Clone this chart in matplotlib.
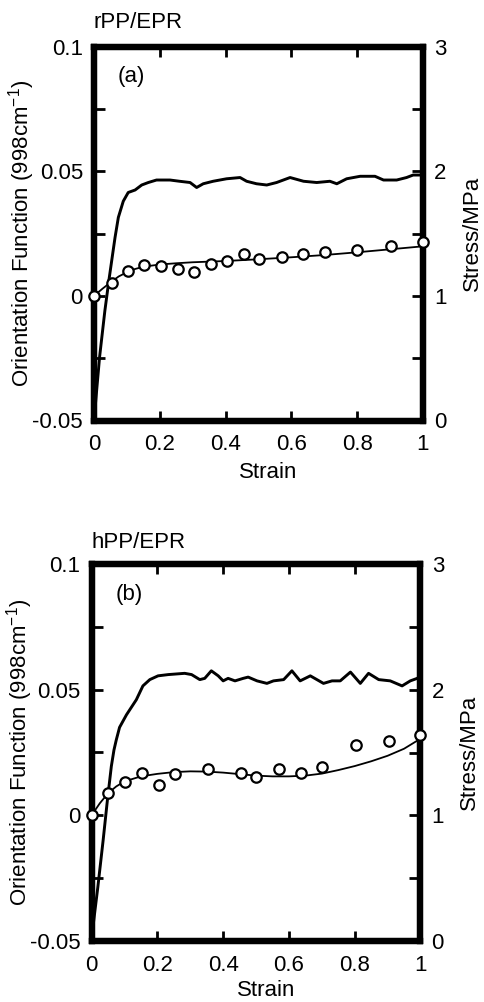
import matplotlib
matplotlib.use("Agg")
import matplotlib.pyplot as plt
import numpy as np

plt.rcParams['font.family'] = ['Liberation Sans', 'DejaVu Sans']
plt.rcParams['mathtext.fontset'] = 'custom'
plt.rcParams['mathtext.rm'] = 'Liberation Sans'
plt.rcParams['mathtext.it'] = 'Liberation Sans'
plt.rcParams['mathtext.default'] = 'regular'

# ---------------- data: panel (a) rPP/EPR ----------------
a_stress_strain = [0, 0.017, 0.033, 0.045, 0.058, 0.064, 0.074, 0.089, 0.104, 0.125,
                   0.145, 0.165, 0.19, 0.231, 0.26, 0.292, 0.312, 0.332, 0.362, 0.403,
                   0.444, 0.464, 0.494, 0.525, 0.555, 0.596, 0.637, 0.677, 0.717, 0.738,
                   0.768, 0.809, 0.854, 0.88, 0.92, 0.95, 0.97, 1.0]
a_stress = [0, 0.51, 0.88, 1.12, 1.36, 1.47, 1.63, 1.76, 1.83, 1.85,
            1.89, 1.91, 1.93, 1.93, 1.92, 1.91, 1.87, 1.90, 1.92, 1.94,
            1.95, 1.92, 1.90, 1.89, 1.91, 1.95, 1.92, 1.91, 1.92, 1.90,
            1.94, 1.96, 1.96, 1.93, 1.93, 1.95, 1.97, 1.97]
a_pts_strain = [0, 0.054, 0.104, 0.153, 0.203, 0.254, 0.304, 0.355, 0.405, 0.455,
                0.502, 0.570, 0.636, 0.702, 0.80, 0.903, 1.0]
a_pts_f = [0, 0.0053, 0.0099, 0.0123, 0.0119, 0.0107, 0.0096, 0.0130, 0.0140, 0.0167,
           0.0149, 0.0158, 0.0167, 0.0178, 0.0184, 0.0199, 0.0215]
a_fit_strain = [0, 0.025, 0.05, 0.075, 0.1, 0.125, 0.15, 0.2, 0.25, 0.3, 0.4, 0.5,
                0.6, 0.7, 0.8, 0.9, 1.0]
a_fit_f = [0, 0.0028, 0.0054, 0.0078, 0.0095, 0.0108, 0.0117, 0.0126, 0.0131, 0.0135,
           0.0140, 0.0147, 0.0155, 0.0164, 0.0175, 0.0187, 0.0199]

# ---------------- data: panel (b) hPP/EPR ----------------
b_stress_strain = [0, 0.004, 0.019, 0.035, 0.048, 0.06, 0.068, 0.075, 0.085, 0.106,
                   0.121, 0.136, 0.156, 0.177, 0.202, 0.233, 0.283, 0.304, 0.329, 0.344,
                   0.364, 0.385, 0.40, 0.415, 0.436, 0.461, 0.476, 0.503, 0.533, 0.553,
                   0.584, 0.609, 0.634, 0.665, 0.705, 0.731, 0.756, 0.787, 0.817, 0.842,
                   0.873, 0.908, 0.944, 0.969, 0.99, 1.0]
b_stress = [0, 0.11, 0.43, 0.80, 1.12, 1.39, 1.52, 1.60, 1.70, 1.80,
            1.86, 1.92, 2.03, 2.08, 2.11, 2.12, 2.13, 2.12, 2.08, 2.09,
            2.15, 2.11, 2.07, 2.09, 2.07, 2.09, 2.10, 2.07, 2.05, 2.07,
            2.08, 2.15, 2.07, 2.11, 2.05, 2.07, 2.07, 2.14, 2.05, 2.13,
            2.08, 2.07, 2.03, 2.07, 2.09, 2.11]
b_pts_strain = [0, 0.051, 0.103, 0.154, 0.204, 0.255, 0.355, 0.455, 0.50, 0.57,
                0.637, 0.701, 0.805, 0.903, 1.0]
b_pts_f = [0, 0.0089, 0.0133, 0.0170, 0.0121, 0.0166, 0.0183, 0.0170, 0.0153, 0.0183,
           0.0170, 0.0194, 0.0281, 0.0294, 0.0321]
b_fit_strain = [0, 0.025, 0.05, 0.075, 0.1, 0.15, 0.2, 0.25, 0.3, 0.35, 0.4, 0.45,
                0.5, 0.55, 0.6, 0.65, 0.7, 0.75, 0.8, 0.85, 0.9, 0.95, 1.0]
b_fit_f = [0, 0.0048, 0.0088, 0.0115, 0.0135, 0.0155, 0.0165, 0.0172, 0.0175, 0.0174,
           0.0170, 0.0164, 0.0158, 0.0155, 0.0155, 0.0158, 0.0166, 0.0180, 0.0196,
           0.0215, 0.0237, 0.0265, 0.0305]

x_ticks = [0, 0.2, 0.4, 0.6, 0.8, 1.0]
x_ticklabels = ['0', '0.2', '0.4', '0.6', '0.8', '1']
yl_ticks = [-0.05, 0, 0.05, 0.1]
yl_ticklabels = ['-0.05', '0', '0.05', '0.1']
yl_minor = [-0.025, 0.025, 0.075]
yr_ticks = [0, 1, 2, 3]
yr_ticklabels = ['0', '1', '2', '3']
yr_minor = [0.5, 1.5, 2.5]

FS = 16
fig = plt.figure(figsize=(4.85, 10.02), dpi=100)

panels = [
    dict(rect=[94/485, 1-420.5/1002, (423-94)/485, 373.8/1002], title='rPP/EPR', tag='(a)',
         ss=a_stress_strain, s=a_stress, ps=a_pts_strain, pf=a_pts_f, fs=a_fit_strain, ff=a_fit_f,
         title_y=1-23/1002, title_x=94/485, xl_y=-0.112),
    dict(rect=[91.6/485, 1-941/1002, (420.5-91.6)/485, 377/1002], title='hPP/EPR', tag='(b)',
         ss=b_stress_strain, s=b_stress, ps=b_pts_strain, pf=b_pts_f, fs=b_fit_strain, ff=b_fit_f,
         title_y=1-543/1002, title_x=92/485, xl_y=-0.104),
]

for p in panels:
    ax = fig.add_axes(p['rect'])
    ax2 = ax.twinx()
    ax.set_zorder(ax2.get_zorder() + 1)
    ax.patch.set_visible(False)

    ax2.plot(p['ss'], p['s'], color='black', lw=2.1, solid_joinstyle='round')
    ax.plot(p['fs'], p['ff'], color='black', lw=1.3)
    ax.plot(p['ps'], p['pf'], linestyle='none', marker='o', ms=7.5, mfc='white',
            mec='black', mew=1.6, clip_on=False, zorder=5)

    ax.set_xlim(0, 1)
    ax.set_ylim(-0.05, 0.1)
    ax2.set_ylim(0, 3)

    ax.set_xticks(x_ticks)
    ax.set_xticklabels(x_ticklabels, fontsize=FS)
    ax.set_yticks(yl_ticks)
    ax.set_yticklabels(yl_ticklabels, fontsize=FS)
    ax.set_yticks(yl_minor, minor=True)
    ax2.set_yticks(yr_ticks)
    ax2.set_yticklabels(yr_ticklabels, fontsize=FS)
    ax2.set_yticks(yr_minor, minor=True)

    ax.tick_params(axis='x', which='both', direction='in', top=True, length=7, width=2, pad=10)
    ax.tick_params(axis='y', which='both', direction='in', right=False, length=8, width=2, pad=8)
    ax2.tick_params(axis='y', which='both', direction='in', length=8, width=2, pad=8)

    for a in (ax, ax2):
        for sp in a.spines.values():
            sp.set_linewidth(4.5)

    ax.set_xlabel('Strain', fontsize=FS)
    ax.xaxis.set_label_coords(0.53, p['xl_y'])
    ax.set_ylabel('Orientation Function (998cm$^{-1}$)', fontsize=FS)
    ax.yaxis.set_label_coords(-0.172, 0.5)
    ax2.set_ylabel('Stress/MPa', fontsize=FS)
    ax2.yaxis.set_label_coords(1.118, 0.5)

    ax.text(0.073, 0.92, p['tag'], transform=ax.transAxes, fontsize=FS, ha='left', va='center')
    fig.text(p['title_x'], p['title_y'], p['title'], fontsize=FS, ha='left', va='center')

fig.savefig('out.png', dpi=100)
